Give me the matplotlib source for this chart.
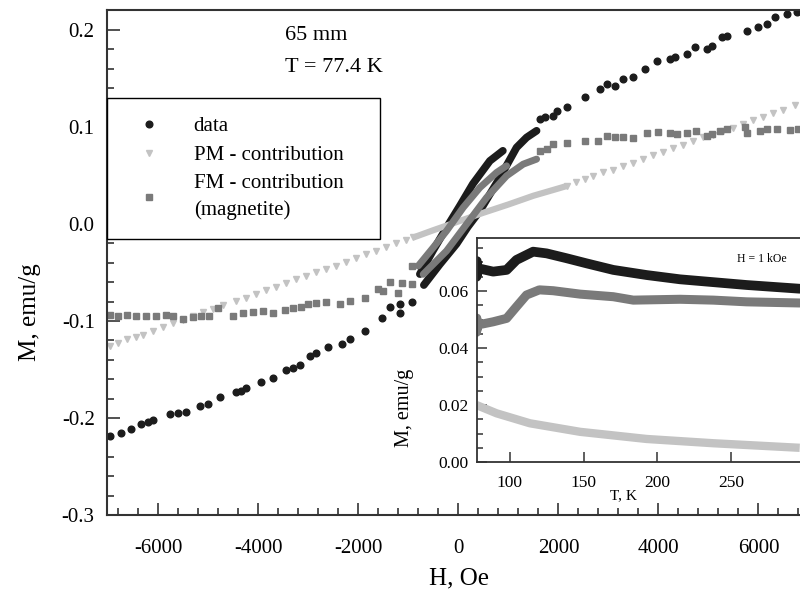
import matplotlib.pyplot as plt
from matplotlib.ticker import MultipleLocator

plt.rcParams['font.family'] = ['Liberation Serif', 'DejaVu Serif']
plt.rcParams['axes.unicode_minus'] = False

# ---- main panel: M(H) at 77.4 K ----
# measured points, negative field side
H_data_neg = [-6970, -6736, -6536, -6336, -6200, -6104, -5770, -5600, -5436, -5170, -4996,
              -4770, -4436, -4350, -4236, -3936, -3704, -3436, -3300, -3170, -2970, -2836,
              -2604, -2336, -2170, -1870, -1536, -1370, -1170, -1170, -936]
M_data_neg = [-0.2186, -0.2152, -0.2116, -0.2059, -0.2045, -0.2024, -0.1962, -0.1950, -0.1935,
              -0.1876, -0.1853, -0.1784, -0.1729, -0.1720, -0.1688, -0.1626, -0.1585, -0.1508,
              -0.1480, -0.1454, -0.1361, -0.1327, -0.1268, -0.1240, -0.1189, -0.1103, -0.0966,
              -0.0856, -0.0828, -0.0914, -0.0801]
# measured points, positive field side
H_data_pos = [1630, 1730, 1896, 1964, 2164, 2530, 2830, 2964, 3130, 3296, 3496, 3730, 3964,
              4230, 4330, 4564, 4730, 4964, 5064, 5264, 5364, 5764, 5996, 6164, 6330, 6564, 6764]
M_data_pos = [0.108, 0.1096, 0.1113, 0.1165, 0.1208, 0.1302, 0.1388, 0.144, 0.1423, 0.1492,
              0.1515, 0.1595, 0.1673, 0.1698, 0.1715, 0.1749, 0.1818, 0.1801, 0.1835, 0.1921,
              0.1938, 0.199, 0.2024, 0.2059, 0.2127, 0.2162, 0.2179]
# dense loop branches of the measured data
H_data_up = [-770, -510, -236, 30, 290, 630, 890]
M_data_up = [-0.0517, -0.0278, -0.0038, 0.0186, 0.0412, 0.0649, 0.0753]
H_data_dn = [-690, -370, -36, 190, 430, 830, 1164, 1364, 1564]
M_data_dn = [-0.063, -0.0416, -0.0206, -0.003, 0.0134, 0.0477, 0.0787, 0.089, 0.0959]

# paramagnetic contribution
H_pm_neg = [-6970, -6800, -6620, -6450, -6300, -6100, -5900, -5700, -5500, -5300, -5100,
            -4900, -4700, -4450, -4250, -4050, -3850, -3650, -3450, -3250, -3050, -2850,
            -2650, -2450, -2250, -2050, -1850, -1650, -1450, -1250, -1050, -900]
M_pm_neg = [-0.126, -0.123, -0.119, -0.116, -0.114, -0.110, -0.106, -0.102, -0.099, -0.095,
            -0.091, -0.088, -0.084, -0.079, -0.076, -0.072, -0.068, -0.065, -0.061, -0.057,
            -0.054, -0.050, -0.046, -0.043, -0.039, -0.035, -0.031, -0.028, -0.024, -0.020,
            -0.017, -0.014]
H_pm_mid = [-900, -500, 0, 500, 1000, 1500, 2000, 2164]
M_pm_mid = [-0.014, -0.0065, 0.0025, 0.0115, 0.020, 0.029, 0.0365, 0.039]
H_pm_pos = [2164, 2350, 2530, 2700, 2900, 3100, 3300, 3500, 3700, 3900, 4100, 4300, 4500,
            4700, 4900, 5100, 5300, 5500, 5700, 5900, 6100, 6300, 6500, 6730]
M_pm_pos = [0.039, 0.043, 0.046, 0.049, 0.053, 0.056, 0.060, 0.063, 0.067, 0.071, 0.074,
            0.078, 0.081, 0.085, 0.089, 0.092, 0.096, 0.099, 0.103, 0.107, 0.110, 0.114,
            0.117, 0.122]

# ferromagnetic (magnetite) contribution
H_fm_neg = [-6970, -6800, -6620, -6450, -6250, -6050, -5850, -5700, -5504, -5300, -5150,
            -4990, -4804, -4510, -4310, -4110, -3910, -3710, -3470, -3310, -3136, -3004,
            -2836, -2636, -2370, -2170, -1870, -1604, -1504, -1370, -1204, -1136, -936, -936]
M_fm_neg = [-0.0941, -0.0945, -0.0938, -0.0950, -0.0945, -0.0948, -0.0940, -0.0945, -0.0976,
            -0.0960, -0.0950, -0.0945, -0.0869, -0.0948, -0.0914, -0.0904, -0.0897, -0.0914,
            -0.0890, -0.0869, -0.0856, -0.0828, -0.0811, -0.0801, -0.0828, -0.0794, -0.0766,
            -0.0673, -0.0690, -0.0595, -0.0708, -0.0605, -0.0622, -0.0433]
H_fm_pos = [1630, 1764, 1896, 2164, 2530, 2796, 2964, 3130, 3296, 3496, 3764, 3996, 4230,
            4364, 4564, 4750, 4964, 5064, 5230, 5364, 5730, 5764, 6030, 6164, 6364, 6630, 6796]
M_fm_pos = [0.0753, 0.077, 0.0822, 0.0838, 0.0856, 0.0856, 0.0907, 0.089, 0.0897, 0.0883,
            0.0931, 0.0948, 0.0941, 0.0925, 0.0931, 0.0959, 0.0907, 0.0925, 0.0959, 0.0976,
            0.0993, 0.0941, 0.0959, 0.0976, 0.0982, 0.0966, 0.0976]
H_fm_up = [-803, -503, -236, 96, 430, 764, 964]
M_fm_up = [-0.0433, -0.0244, -0.0072, 0.0168, 0.0374, 0.0529, 0.0598]
H_fm_dn = [-703, -236, 164, 564, 964, 1296, 1564]
M_fm_dn = [-0.0519, -0.0278, -0.0003, 0.0271, 0.0495, 0.0615, 0.0667]

# ---- inset: M(T) at H = 1 kOe ----
T_data = [77.4, 77.6, 77.9, 78.3, 88.7, 97.8, 104.5, 115.8, 124.9, 138.4, 152.0, 170.1,
          192.7, 215.4, 238.0, 260.6, 296.5]
Mt_data = [0.0650, 0.0705, 0.0660, 0.0680, 0.0668, 0.0674, 0.0709, 0.0738, 0.0732, 0.0715,
           0.0697, 0.0674, 0.0656, 0.0641, 0.0631, 0.0621, 0.0608]
T_fm = [77.4, 77.6, 77.9, 78.3, 88.7, 97.8, 104.5, 111.3, 120.0, 129.4, 147.7, 170.1,
        183.7, 215.4, 238.0, 260.6, 296.5]
Mt_fm = [0.0455, 0.0505, 0.0465, 0.0481, 0.0492, 0.0504, 0.0545, 0.0586, 0.0604, 0.0601,
         0.0589, 0.0580, 0.0568, 0.0571, 0.0568, 0.0562, 0.0558]
T_pm = [77.4, 91.0, 113.6, 147.7, 192.7, 238.0, 296.5]
Mt_pm = [0.0200, 0.0171, 0.0136, 0.0106, 0.0081, 0.0066, 0.0050]

c_data = '#1c1c1c'
c_fm = '#7a7a7a'
c_pm = '#c3c3c3'
c_ax = '#333333'

fig = plt.figure(figsize=(8, 6.04), dpi=100)
ax = fig.add_axes([0.134, 0.147, 0.866, 0.836])

# loop bands first, then scattered points
ax.plot(H_data_up, M_data_up, color=c_data, lw=5.5, solid_capstyle='round')
ax.plot(H_data_dn, M_data_dn, color=c_data, lw=5.5, solid_capstyle='round')
ax.plot(H_data_neg + H_data_pos, M_data_neg + M_data_pos, 'o', color=c_data, ms=4.8,
        mec=c_data, label='data')
ax.plot(H_pm_mid, M_pm_mid, color=c_pm, lw=4.5, solid_capstyle='butt')
ax.plot(H_pm_neg + H_pm_pos, M_pm_neg + M_pm_pos, 'v', color=c_pm, ms=4.5, mec=c_pm,
        label='PM - contribution')
ax.plot(H_fm_up, M_fm_up, color=c_fm, lw=5, solid_capstyle='round')
ax.plot(H_fm_dn, M_fm_dn, color=c_fm, lw=5, solid_capstyle='round')
ax.plot(H_fm_neg + H_fm_pos, M_fm_neg + M_fm_pos, 's', color=c_fm, ms=4, mec=c_fm,
        label='FM - contribution\n(magnetite)')

ax.set_xlim(-7020, 6830)
ax.set_ylim(-0.3, 0.22)
ax.xaxis.set_major_locator(MultipleLocator(2000))
ax.xaxis.set_minor_locator(MultipleLocator(400))
ax.yaxis.set_major_locator(MultipleLocator(0.1))
ax.yaxis.set_minor_locator(MultipleLocator(0.02))
ax.yaxis.set_major_formatter(plt.FuncFormatter(lambda v, p: '%.1f' % v if abs(v) > 1e-9 else '0.0'))
ax.tick_params(which='both', direction='in', color=c_ax, width=1.2, labelsize=15)
ax.tick_params(which='major', length=9)
ax.tick_params(which='minor', length=5)
ax.tick_params(axis='x', pad=17)
ax.tick_params(axis='y', pad=9)
for s in ['left', 'bottom', 'top']:
    ax.spines[s].set_color(c_ax)
    ax.spines[s].set_linewidth(1.5)
ax.spines['right'].set_visible(False)

leg = ax.legend(loc='upper left', bbox_to_anchor=(0, 0.826, 0.394, 0.0), mode='expand',
                borderaxespad=0, fontsize=15, frameon=True, fancybox=False, framealpha=1,
                edgecolor='black', borderpad=0.9, handlelength=2.2, handletextpad=1.05,
                labelspacing=0.42, numpoints=1)
leg.get_frame().set_linewidth(1.0)
for t in leg.get_texts():
    t.set_linespacing(1.55)

fig.text(285 / 800, 1 - 36 / 604, '65 mm', fontsize=16, va='center', ha='left')
fig.text(285 / 800, 1 - 67 / 604, 'T = 77.4 K', fontsize=16, va='center', ha='left')
fig.text(459 / 800, 1 - 578 / 604, 'H, Oe', fontsize=18, ha='center', va='center')
fig.text(30 / 800, 1 - 312 / 604, 'M, emu/g', fontsize=18, ha='center', va='center',
         rotation=90)

# inset
axi = fig.add_axes([0.596, 0.235, 0.404, 0.371])
axi.set_facecolor('white')
axi.plot(T_data, Mt_data, color=c_data, lw=7, solid_capstyle='round')
axi.plot(T_fm, Mt_fm, color=c_fm, lw=6.5, solid_capstyle='round')
axi.plot(T_pm, Mt_pm, color=c_pm, lw=6, solid_capstyle='butt')
axi.set_xlim(77.6, 296.7)
axi.set_ylim(0, 0.0786)
axi.xaxis.set_major_locator(MultipleLocator(50))
axi.yaxis.set_major_locator(MultipleLocator(0.02))
axi.yaxis.set_minor_locator(MultipleLocator(0.005))
axi.yaxis.set_major_formatter(plt.FuncFormatter(lambda v, p: '%.2f' % v))
axi.tick_params(which='both', direction='in', color=c_ax, width=1.1, labelsize=12.5)
axi.tick_params(which='major', length=7)
axi.tick_params(which='minor', length=4)
axi.tick_params(axis='x', pad=9)
axi.tick_params(axis='y', pad=6)
for s in ['left', 'bottom', 'top']:
    axi.spines[s].set_color(c_ax)
    axi.spines[s].set_linewidth(1.3)
axi.spines['right'].set_visible(False)
fig.text(405 / 800, 1 - 408 / 604, 'M, emu/g', fontsize=14.5, ha='center', va='center',
         rotation=90)
fig.text(623 / 800, 1 - 496 / 604, 'T, K', fontsize=11, ha='center', va='center')
fig.text(762 / 800, 1 - 259 / 604, 'H = 1 kOe', fontsize=8.5, ha='center', va='center')

fig.savefig('out.png', dpi=100)
